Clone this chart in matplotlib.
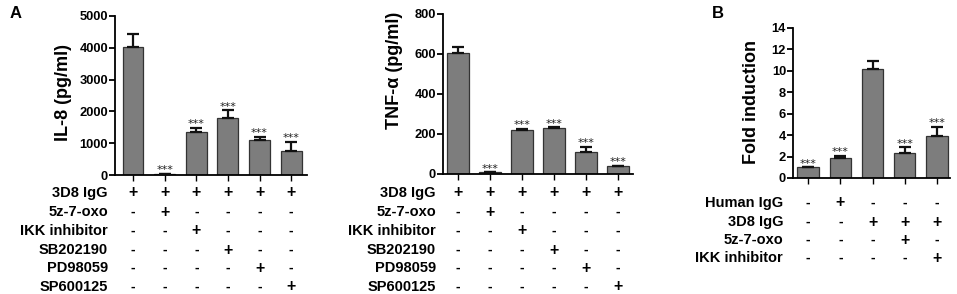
import matplotlib
matplotlib.use("Agg")
import matplotlib.pyplot as plt
import matplotlib.transforms as mtransforms

plt.rcParams['font.family'] = ['Liberation Sans', 'DejaVu Sans']
plt.rcParams['font.weight'] = 'bold'

# ---- data ----
il8_values = [4030, 30, 1360, 1800, 1100, 760]
il8_errors = [400, 0, 120, 230, 100, 290]
il8_stars = ["", "***", "***", "***", "***", "***"]

tnf_values = [605, 8, 222, 228, 108, 38]
tnf_errors = [30, 0, 4, 6, 27, 4]
tnf_stars = ["", "***", "***", "***", "***", "***"]

fold_values = [1.0, 1.9, 10.2, 2.35, 3.95]
fold_errors = [0.0, 0.15, 0.7, 0.5, 0.8]
fold_stars = ["***", "***", "", "***", "***"]

a_rows = ["3D8 IgG", "5z-7-oxo", "IKK inhibitor", "SB202190", "PD98059", "SP600125"]
a_table = [
    ["+", "+", "+", "+", "+", "+"],
    ["-", "+", "-", "-", "-", "-"],
    ["-", "-", "+", "-", "-", "-"],
    ["-", "-", "-", "+", "-", "-"],
    ["-", "-", "-", "-", "+", "-"],
    ["-", "-", "-", "-", "-", "+"],
]
b_rows = ["Human IgG", "3D8 IgG", "5z-7-oxo", "IKK inhibitor"]
b_table = [
    ["-", "+", "-", "-", "-"],
    ["-", "-", "+", "+", "+"],
    ["-", "-", "-", "+", "-"],
    ["-", "-", "-", "-", "+"],
]

W, H = 957, 294
fig = plt.figure(figsize=(W / 100, H / 100), dpi=100)

def fy(py):
    return 1 - py / H

def make_axes(left, right, top, bottom):
    return fig.add_axes([left / W, fy(bottom), (right - left) / W, (bottom - top) / H])

BAR_C = "#7d7d7d"

def draw_panel(ax, values, errors, stars, ylim, yticks, ylabel, xlim, lab_xy):
    x = list(range(len(values)))
    ax.bar(x, values, width=0.66, color=BAR_C, edgecolor="#333333", linewidth=0.9, zorder=2)
    ax.errorbar(x, values, yerr=[[0] * len(values), errors], fmt="none",
                ecolor="#111111", elinewidth=1.6, capsize=4.5, capthick=1.6, zorder=3)
    for xi, v, e, s in zip(x, values, errors, stars):
        if s:
            ax.annotate(s, (xi, v + e), xytext=(0, 0.5), textcoords="offset points",
                        ha="center", va="baseline", fontsize=8, fontweight="normal",
                        family="DejaVu Sans", color="#222222")
    ax.set_xlim(*xlim)
    ax.set_ylim(*ylim)
    ax.set_yticks(yticks)
    ax.set_xticks(x)
    ax.set_xticklabels([])
    for sp in ["top", "right"]:
        ax.spines[sp].set_visible(False)
    for sp in ["left", "bottom"]:
        ax.spines[sp].set_linewidth(1.3)
    ax.tick_params(axis="y", direction="out", length=4, width=1.3, labelsize=9.3, pad=1)
    ax.tick_params(axis="x", direction="out", length=4, width=1.0)
    ax.set_ylabel(ylabel, fontsize=13, fontweight="bold")
    ax.yaxis.set_label_coords(*lab_xy)

def draw_table(ax, rows, table, row_y, label_x):
    tr = mtransforms.blended_transform_factory(ax.transData, fig.transFigure)
    for name, cells, py in zip(rows, table, row_y):
        fig.text(label_x / W, fy(py), name, ha="right", va="center", fontsize=10.5, fontweight="bold")
        for i, c in enumerate(cells):
            ax.text(i, fy(py), c, transform=tr, ha="center", va="center",
                    fontsize=11.5 if c == "+" else 10, fontweight="bold", clip_on=False)

# Panel A1
ax1 = make_axes(115, 307, 16, 175)
draw_panel(ax1, il8_values, il8_errors, il8_stars, (0, 5000), [0, 1000, 2000, 3000, 4000, 5000],
           "IL-8 (pg/ml)", (-0.57, 5.5), (-0.225, 0.52))
draw_table(ax1, a_rows, a_table, [193, 212, 231, 250, 268, 287], 108)

# Panel A2
ax2 = make_axes(443, 633, 14, 174)
draw_panel(ax2, tnf_values, tnf_errors, tnf_stars, (0, 800), [0, 200, 400, 600, 800],
           "TNF-α (pg/ml)", (-0.47, 5.47), (-0.21, 0.65))
draw_table(ax2, a_rows, a_table, [193, 212, 231, 250, 268, 287], 436)

# Panel B
ax3 = make_axes(793, 950, 28, 178)
draw_panel(ax3, fold_values, fold_errors, fold_stars, (0, 14), [0, 2, 4, 6, 8, 10, 12, 14],
           "Fold induction", (-0.465, 4.4), (-0.21, 0.51))
draw_table(ax3, b_rows, b_table, [203, 222, 240, 258], 783)

fig.text(10 / W, fy(13), "A", ha="left", va="center", fontsize=12, fontweight="bold")
fig.text(712 / W, fy(13), "B", ha="left", va="center", fontsize=12, fontweight="bold")

fig.savefig("out.png", dpi=100)
